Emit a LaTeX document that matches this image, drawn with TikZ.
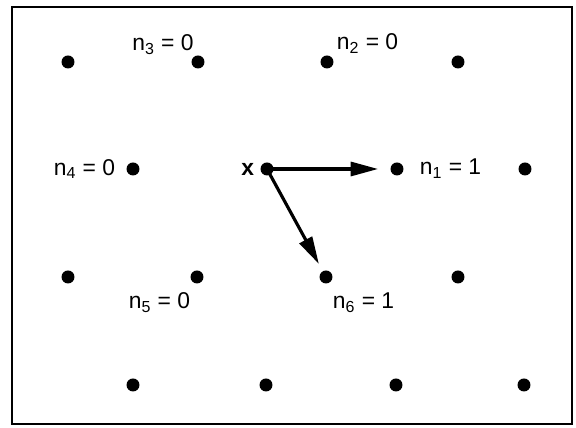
\documentclass[tikz,border=0pt]{standalone}
\usepackage{fontspec}
\setmainfont{Liberation Sans}
\usetikzlibrary{arrows.meta,positioning}
\tikzset{
  dot/.style={circle,fill=black,inner sep=0pt,minimum size=2.6mm},
  lbl/.style={font=\fontsize{13}{15}\selectfont,inner sep=1pt},
  move/.style={-{Triangle[length=5.5mm,width=2.8mm]},line width=1.8pt},
  frame/.style={line width=1.6pt}
}

\begin{document}
\begin{tikzpicture}[x=0.02cm,y=-0.02cm]
\useasboundingbox (0,0) rectangle (576,428);
\draw[frame] (12,7) rectangle (572,424);

% first row
\node[dot] (a1) at (68,62) {};
\node[dot] (n3) at (198,62) {};
\node[dot] (n2) at (327,62) {};
\node[dot] (a4) at (458,62) {};
% second row
\node[dot] (n4) at (133,169) {};
\node[dot] (x) at (267,169) {};
\node[dot] (n1) at (397,169) {};
\node[dot] (b4) at (525,169) {};
% third row
\node[dot] (c1) at (68,277) {};
\node[dot] (n5) at (197,277) {};
\node[dot] (n6) at (326,277) {};
\node[dot] (c4) at (458,277) {};
% fourth row
\node[dot] (d1) at (133,385) {};
\node[dot] (d2) at (266,385) {};
\node[dot] (d3) at (396,385) {};
\node[dot] (d4) at (524,385) {};

\node[lbl,above left=0mm and -0.5mm of n3] (l3) {n\textsubscript{3} = 0};
\node[lbl,above right=0.3mm and 0.6mm of n2] (l2) {n\textsubscript{2} = 0};
\node[lbl,left=1.8mm of n4] (l4) {n\textsubscript{4} = 0};
\node[lbl,left=0.8mm of x,font=\fontsize{13}{15}\selectfont\bfseries] (lx) {x};
\node[lbl,right=2.8mm of n1] (l1) {n\textsubscript{1} = 1};
\node[lbl,below left=1.8mm and 0mm of n5] (l5) {n\textsubscript{5} = 0};
\node[lbl,below right=1.8mm and 0mm of n6] (l6) {n\textsubscript{6} = 1};

\draw[move,shorten >=2.4mm] (x.center) -- (n1);
\draw[move,shorten >=1.6mm] (x.center) -- (n6);
\end{tikzpicture}
\end{document}
